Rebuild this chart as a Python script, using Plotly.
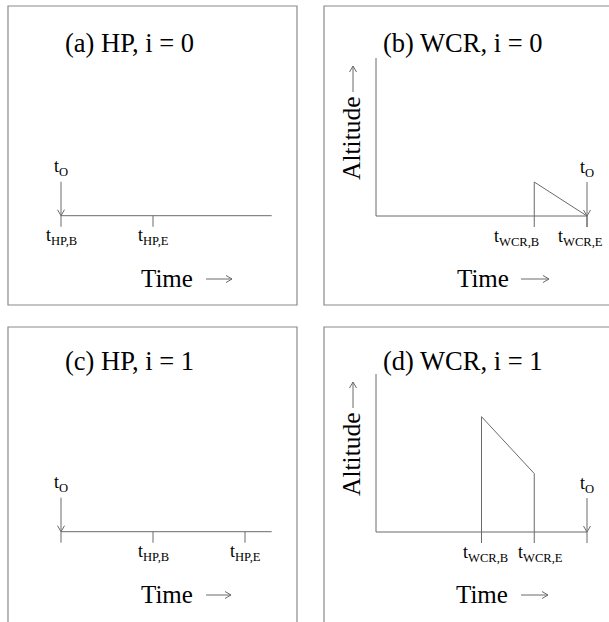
import plotly.graph_objects as go

W, H = 609, 622

# ---------------------------------------------------------------- data
panel_titles = ["(a) HP, i = 0", "(b) WCR, i = 0", "(c) HP, i = 1", "(d) WCR, i = 1"]

# HP panels (time units): observation time and HP begin / end
hp_t_obs = [0.0, 0.0]
hp_begin = [0.0, 1.0]
hp_end = [1.0, 2.0]
hp_time_max = 2.29

# WCR panels (time units / altitude units)
wcr_t_obs = [4.0, 4.0]
wcr_begin = [3.0, 2.0]
wcr_end = [4.0, 3.0]
wcr_alt_begin = [0.215, 0.73]
wcr_alt_end = [0.0, 0.37]
wcr_alt_max = 1.0

hp_subs = ["HP,B", "HP,E"]
wcr_subs = ["WCR,B", "WCR,E"]
obs_sub = "O"
time_label = "Time"
alt_label = "Altitude"

# ---------------------------------------------------------------- style
FONT = "Liberation Serif, Times New Roman, serif"
LINE = "#6a6a6a"
BOX = "#8a8a8a"
TICK = 0.07          # depth of event ticks below the time axis (altitude units)
OBS_ARROW = 0.215    # length of the observation-time arrow (altitude units)
HEAD_W, HEAD_L = 3.5, 6.0   # arrow-head half width / length in pixels
LAB_SIZE, SUB_SIZE = 18, 12.6


def t_label(sub):
    return (f"<span style='font-size:{LAB_SIZE}px'>t</span>"
            f"<sub><span style='font-size:{SUB_SIZE}px'>{sub}</span></sub>")


# panel geometry in pixels: box (x0, x1, y0, y1), origin (ox, oy), px per unit
ROW2 = 316  # vertical offset of the lower row's content
panels = [
    dict(kind="hp", i=0, box=(8, 297, 6, 305), origin=(61, 215.7), xppu=92.0, yppu=158.0,
         title=(63, 43), time=(166.5, 278, 206, 232, 279), lab_dx=[0, 0]),
    dict(kind="wcr", i=0, box=(324, 613, 6, 305), origin=(376, 216), xppu=52.75, yppu=158.0,
         title=(381, 43), time=(482.5, 278, 521, 549, 279), lab_dx=[-18, -7],
         alt=(351, 138, 92, 66)),
    dict(kind="hp", i=1, box=(8, 297, 327, 626), origin=(61, 215.7 + ROW2), xppu=92.0,
         yppu=158.0, title=(63, 45 + ROW2), time=(167, 278 + ROW2, 206, 231, 279 + ROW2),
         lab_dx=[0, 0]),
    dict(kind="wcr", i=1, box=(324, 613, 327, 626), origin=(376, 216 + ROW2), xppu=52.75,
         yppu=158.0, title=(381, 45 + ROW2), time=(482, 278 + ROW2, 521, 548, 279 + ROW2),
         lab_dx=[4, 6], alt=(351, 138 + ROW2, 92 + ROW2, 66 + ROW2)),
]


def px(x):
    return x / W


def py(y):
    return 1 - y / H


def paper_arrow(xa, ya, xb, yb):
    """Thin arrow from pixel point a to pixel point b, drawn as a paper-space path."""
    dx, dy = xb - xa, yb - ya
    n = (dx * dx + dy * dy) ** 0.5
    ux, uy = dx / n, dy / n
    lx, ly = xb - ux * HEAD_L - uy * HEAD_W, yb - uy * HEAD_L + ux * HEAD_W
    rx, ry = xb - ux * HEAD_L + uy * HEAD_W, yb - uy * HEAD_L - ux * HEAD_W
    path = (f"M{px(xa)},{py(ya)} L{px(xb)},{py(yb)} "
            f"M{px(lx)},{py(ly)} L{px(xb)},{py(yb)} L{px(rx)},{py(ry)}")
    return dict(type="path", xref="paper", yref="paper", path=path,
                line=dict(color=LINE, width=1))


fig = go.Figure()
layout = dict(width=W, height=H, margin=dict(l=0, r=0, t=0, b=0),
              paper_bgcolor="white", plot_bgcolor="white", showlegend=False)
annotations = []
shapes = []

for k, p in enumerate(panels):
    sfx = "" if k == 0 else str(k + 1)
    xr, yr = "x" + sfx, "y" + sfx
    x0, x1, y0, y1 = p["box"]
    ox, oy = p["origin"]
    cx0, cx1 = max(0, x0), min(W, x1)
    cy0, cy1 = max(0, y0), min(H, y1)
    layout["xaxis" + sfx] = dict(domain=[px(cx0), px(cx1)],
                                 range=[(cx0 - ox) / p["xppu"], (cx1 - ox) / p["xppu"]],
                                 visible=False, fixedrange=True, anchor=yr)
    layout["yaxis" + sfx] = dict(domain=[py(cy1), py(cy0)],
                                 range=[(oy - cy1) / p["yppu"], (oy - cy0) / p["yppu"]],
                                 visible=False, fixedrange=True, anchor=xr)

    # panel frame
    shapes.append(dict(type="rect", xref="paper", yref="paper",
                       x0=px(x0), x1=px(x1), y0=py(y1), y1=py(y0),
                       line=dict(color=BOX, width=1.2), fillcolor="rgba(0,0,0,0)"))

    xs, ys = [], []

    def seg(sx, sy):
        xs.extend(list(sx) + [None])
        ys.extend(list(sy) + [None])

    i = p["i"]
    if p["kind"] == "hp":
        t_obs, tb, te = hp_t_obs[i], hp_begin[i], hp_end[i]
        subs = hp_subs
        seg([0, hp_time_max], [0, 0])
        for t in sorted({t_obs, tb, te}):
            seg([t, t], [0, -TICK])
    else:
        t_obs, tb, te = wcr_t_obs[i], wcr_begin[i], wcr_end[i]
        subs = wcr_subs
        seg([0, t_obs], [0, 0])
        seg([0, 0], [0, wcr_alt_max])
        seg([tb, tb, te, te], [-TICK, wcr_alt_begin[i], wcr_alt_end[i], -TICK])
        seg([t_obs, t_obs], [0, -TICK])

    # observation-time arrow (shaft + open head)
    hw, hl = HEAD_W / p["xppu"], HEAD_L / p["yppu"]
    seg([t_obs, t_obs], [OBS_ARROW, 0])
    seg([t_obs - hw, t_obs, t_obs + hw], [hl, 0, hl])

    fig.add_trace(go.Scatter(x=xs, y=ys, xaxis=xr, yaxis=yr, mode="lines",
                             line=dict(color=LINE, width=1), hoverinfo="skip",
                             connectgaps=False))

    annotations.append(dict(xref=xr, yref=yr, x=t_obs, y=OBS_ARROW, yshift=14,
                            text=t_label(obs_sub), showarrow=False, xanchor="center",
                            yanchor="middle", font=dict(family=FONT, size=LAB_SIZE, color="black")))

    # begin / end labels under the time axis
    for t, sub, dx in zip([tb, te], subs, p["lab_dx"]):
        annotations.append(dict(xref=xr, yref=yr, x=t, y=0, yshift=-21, xshift=dx,
                                text=t_label(sub), showarrow=False, xanchor="center",
                                yanchor="middle",
                                font=dict(family=FONT, size=LAB_SIZE, color="black")))

    # panel title
    tx, ty = p["title"]
    annotations.append(dict(xref="paper", yref="paper", x=px(tx), y=py(ty),
                            text=panel_titles[k], showarrow=False, xanchor="left",
                            yanchor="middle", font=dict(family=FONT, size=26.5, color="black")))

    # "Time ->" caption
    tcx, tcy, ax0, ax1, ay = p["time"]
    annotations.append(dict(xref="paper", yref="paper", x=px(tcx), y=py(tcy),
                            text=time_label, showarrow=False, xanchor="center",
                            yanchor="middle", font=dict(family=FONT, size=25, color="black")))
    shapes.append(paper_arrow(ax0, ay, ax1, ay))

    # "Altitude ->" caption
    if "alt" in p:
        acx, acy, ay0, ay1 = p["alt"]
        annotations.append(dict(xref="paper", yref="paper", x=px(acx), y=py(acy),
                                text=alt_label, textangle=-90, showarrow=False,
                                xanchor="center", yanchor="middle",
                                font=dict(family=FONT, size=25.5, color="black")))
        shapes.append(paper_arrow(acx + 2, ay0, acx + 2, ay1))

layout["annotations"] = annotations
layout["shapes"] = shapes
fig.update_layout(**layout)
fig.write_html("out.html")
